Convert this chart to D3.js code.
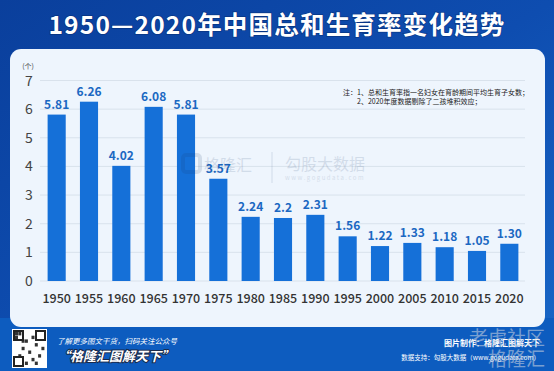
<!DOCTYPE html>
<html><head><meta charset="utf-8">
<script src="https://cdn.jsdelivr.net/npm/d3@7"></script>
<style>
html,body{margin:0;padding:0;background:#0d4fb0;}
svg{display:block;}
</style></head>
<body>
<svg id="c" width="554" height="371"></svg>
<script>
const years = ["1950","1955","1960","1965","1970","1975","1980","1985","1990","1995","2000","2005","2010","2015","2020"];
const values = [5.81,6.26,4.02,6.08,5.81,3.57,2.24,2.2,2.31,1.56,1.22,1.33,1.18,1.05,1.30];
const valueLabels = ["5.81","6.26","4.02","6.08","5.81","3.57","2.24","2.2","2.31","1.56","1.22","1.33","1.18","1.05","1.30"];
const yTicks = [0,1,2,3,4,5,6,7];
const title = "1950—2020年中国总和生育率变化趋势";
const unit = "(个)";
const notes = ["注：1、总和生育率指一名妇女在育龄期间平均生育子女数；","2、2020年度数据剔除了二孩堆积效应；"];

const svg = d3.select("#c");
const font = "'Noto Sans CJK SC','Noto Sans',sans-serif";
const defs = svg.append("defs");
const bg = defs.append("linearGradient").attr("id","bg").attr("x1","0").attr("y1","0").attr("x2","1").attr("y2","1");
bg.append("stop").attr("offset","0").attr("stop-color","#0a3f9c");
bg.append("stop").attr("offset","0.5").attr("stop-color","#0e4db0");
bg.append("stop").attr("offset","1").attr("stop-color","#1868c8");
svg.append("rect").attr("width",554).attr("height",371).attr("fill","url(#bg)");
svg.append("rect").attr("x",0).attr("y",318).attr("width",554).attr("height",53).attr("fill","#0d5cbf");
svg.append("rect").attr("x",10).attr("y",49).attr("width",535).attr("height",278).attr("rx",11).attr("fill","#eef5fd");

svg.append("text").attr("x",277).attr("y",34).attr("text-anchor","middle")
  .attr("fill","#ffffff").attr("font-family",font).attr("font-weight","bold")
  .attr("font-size",24.5).attr("letter-spacing",1.2)
  .style("paint-order","stroke").attr("stroke","rgba(0,20,70,0.35)").attr("stroke-width",1.5)
  .text(title);

const x = d3.scaleBand().domain(years).range([40.5,525.5]).paddingInner(0.44).paddingOuter(0.22);
const y = d3.scaleLinear().domain([0,7]).range([281,80.5]);

const g = svg.append("g");
g.selectAll("line.grid").data(yTicks).join("line")
  .attr("x1",40).attr("x2",525).attr("y1",d=>y(d)).attr("y2",d=>y(d))
  .attr("stroke","#d9e2ec").attr("stroke-width",1);
g.selectAll("text.yl").data(yTicks).join("text")
  .attr("x",29).attr("y",d=>y(d)+5).attr("text-anchor","middle")
  .attr("font-family",font).attr("font-size",14).attr("fill","#444")
  .text(d=>d);
g.append("text").attr("x",28).attr("y",69).attr("text-anchor","middle")
  .attr("font-family",font).attr("font-size",7).attr("fill","#444").text(unit);

const wm = svg.append("g").attr("opacity",0.13);
wm.append("rect").attr("x",183).attr("y",155).attr("width",17).attr("height",17).attr("rx",3).attr("fill","none").attr("stroke","#1b3a6b").attr("stroke-width",4);
wm.append("text").attr("x",204).attr("y",171).attr("font-family",font).attr("font-size",16).attr("fill","#1b3a6b").text("格隆汇");
wm.append("line").attr("x1",272).attr("x2",272).attr("y1",152).attr("y2",183).attr("stroke","#1b3a6b");
wm.append("text").attr("x",285).attr("y",170).attr("font-family",font).attr("font-size",16).attr("fill","#1b3a6b").text("勾股大数据");
wm.append("text").attr("x",285).attr("y",180).attr("font-family",font).attr("font-size",6).attr("letter-spacing",1.5).attr("fill","#1b3a6b").text("www.gogudata.com");

g.selectAll("rect.bar").data(values).join("rect")
  .attr("x",(d,i)=>x(years[i])).attr("width",x.bandwidth())
  .attr("y",d=>y(d)).attr("height",d=>y(0)-y(d)).attr("fill","#1570d8");
g.selectAll("text.v").data(values).join("text")
  .attr("x",(d,i)=>x(years[i])+x.bandwidth()/2).attr("y",d=>y(d)-6)
  .attr("text-anchor","middle").attr("font-family",font).attr("font-weight","bold")
  .attr("font-size",12).attr("fill","#1b68c2").text((d,i)=>valueLabels[i]);
g.selectAll("text.xl").data(years).join("text")
  .attr("x",d=>x(d)+x.bandwidth()/2).attr("y",303)
  .attr("text-anchor","middle").attr("font-family",font).attr("font-weight","500")
  .attr("font-size",12.5).attr("fill","#333").text(d=>d);

svg.append("text").attr("x",343).attr("y",95).attr("font-family",font).attr("font-size",7).attr("fill","#222").text(notes[0]);
svg.append("text").attr("x",357).attr("y",104).attr("font-family",font).attr("font-size",7).attr("fill","#222").text(notes[1]);

const qr = svg.append("g");
qr.append("rect").attr("x",12).attr("y",329).attr("width",35).attr("height",39).attr("fill","#ffffff");
const qrPattern = [[0,0],[1,0],[0,1],[3,2],[5,1],[6,3],[2,4],[4,5],[7,6],[1,6],[5,7],[3,8],[6,8],[8,4],[2,2]];
qr.selectAll("rect.q").data(qrPattern).join("rect")
  .attr("x",d=>15+d[0]*3.3).attr("y",d=>332+d[1]*3.7).attr("width",3).attr("height",3.4).attr("fill","#333");
[[14,331],[36,331],[14,357]].forEach(p=>{
  qr.append("rect").attr("x",p[0]).attr("y",p[1]).attr("width",9).attr("height",9).attr("fill","none").attr("stroke","#222").attr("stroke-width",2);
});
svg.append("text").attr("x",57).attr("y",344).attr("font-family",font).attr("font-size",7.5).attr("font-style","italic").attr("fill","#ffffff").text("了解更多图文干货，扫码关注公众号");
svg.append("text").attr("x",57).attr("y",361).attr("font-family",font).attr("font-size",13).attr("font-weight","bold").attr("font-style","italic")
  .attr("fill","#ffffff").style("paint-order","stroke").attr("stroke","#1a2a4a").attr("stroke-width",2).text("“格隆汇图解天下”");
svg.append("text").attr("x",540).attr("y",346).attr("text-anchor","end").attr("font-family",font).attr("font-size",8).attr("font-weight","bold").attr("fill","#ffffff").text("图片制作：格隆汇图解天下");
svg.append("text").attr("x",540).attr("y",360).attr("text-anchor","end").attr("font-family",font).attr("font-size",6.5).attr("fill","#ffffff").text("数据支持：勾股大数据（www.gogudata.com）");
const cw = svg.append("g").attr("opacity",0.55);
cw.append("text").attr("x",545).attr("y",345).attr("text-anchor","end").attr("font-family",font).attr("font-size",19).attr("fill","#d0d6e0").text("老虎社区");
cw.append("text").attr("x",545).attr("y",366).attr("text-anchor","end").attr("font-family",font).attr("font-size",19).attr("fill","#d0d6e0").text("格隆汇");
</script>
</body></html>
